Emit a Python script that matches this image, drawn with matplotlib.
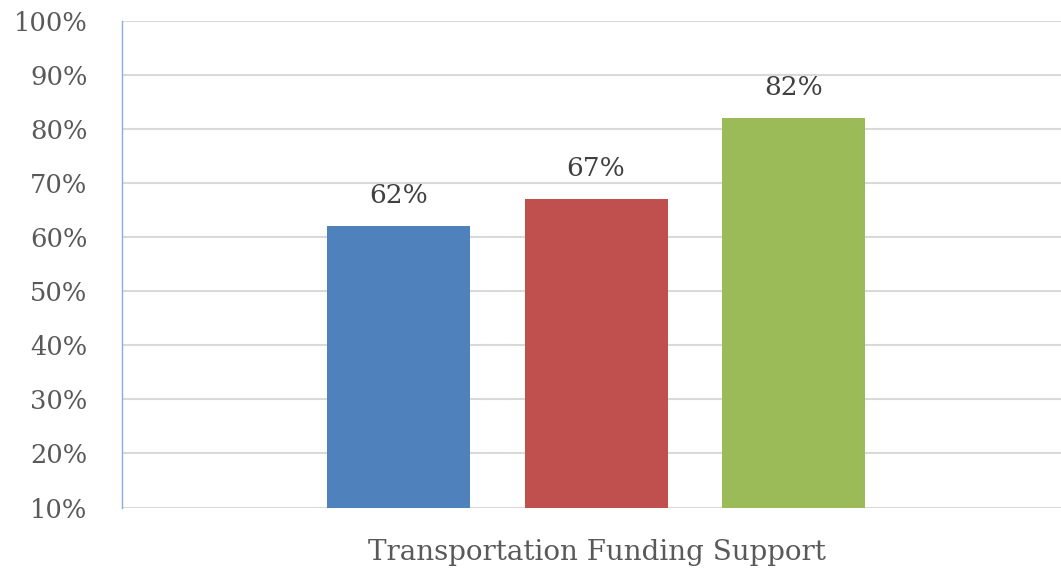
import matplotlib
matplotlib.use("Agg")
import matplotlib.pyplot as plt
from matplotlib.ticker import FixedLocator

categories = ["Transportation Funding Support"]
series_names = ["A", "B", "C"]
values = [62, 67, 82]
colors = ["#4f81bd", "#c0504d", "#9bbb59"]
yticks = [10, 20, 30, 40, 50, 60, 70, 80, 90, 100]
ytick_labels = [f"{v}%" for v in yticks]

W, H = 1061, 572
fig = plt.figure(figsize=(W / 100, H / 100), dpi=100)
ax = fig.add_axes([122 / W, 1 - 507.5 / H, (1061 - 122) / W, (507.5 - 21) / H])

font = "DejaVu Serif"
xs = [0, 1, 2]
ax.bar(xs, [v - 10 for v in values], bottom=10, width=0.724, color=colors, zorder=3)
for x, v in zip(xs, values):
    ax.text(x, v + 3.4, f"{v}%", ha="center", va="bottom", fontsize=19,
            color="#404040", family=font)

ax.set_xlim(-1.40, 3.354)
ax.set_ylim(10, 100)
ax.yaxis.set_major_locator(FixedLocator(yticks))
ax.set_yticklabels(ytick_labels, family=font, fontsize=18.5, color="#595959")
ax.tick_params(axis="y", length=0, pad=25)
ax.tick_params(axis="x", length=0)
ax.set_xticks([])
ax.grid(axis="y", color="#d9d9d9", linewidth=1.5, zorder=0)
for s in ["top", "right", "bottom"]:
    ax.spines[s].set_visible(False)
ax.spines["left"].set_color("#8eaadb")
ax.spines["left"].set_linewidth(1)

fig.text(597 / W, 1 - 553 / H, categories[0], ha="center", va="center",
         fontsize=20, color="#595959", family=font)

fig.savefig("out.png", dpi=100)
